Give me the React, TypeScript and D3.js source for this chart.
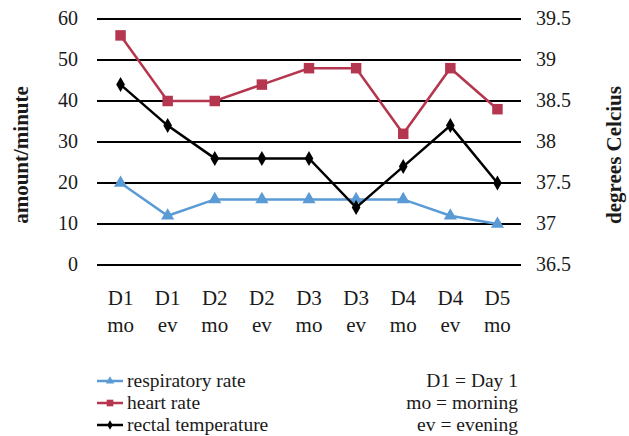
import { useEffect, useRef } from "react";
import * as d3 from "d3";

const categories = ["D1 mo", "D1 ev", "D2 mo", "D2 ev", "D3 mo", "D3 ev", "D4 mo", "D4 ev", "D5 mo"];
const respiratory = [20, 12, 16, 16, 16, 16, 16, 12, 10];
const heartRate = [56, 40, 40, 44, 48, 48, 32, 48, 38];
const temperature = [38.7, 38.2, 37.8, 37.8, 37.8, 37.2, 37.7, 38.2, 37.5];
const leftTicks = [0, 10, 20, 30, 40, 50, 60];
const rightTicks = [36.5, 37, 37.5, 38, 38.5, 39, 39.5];
const legendNotes = ["D1 = Day 1", "mo = morning", "ev = evening"];

const FONT = "'Liberation Serif', serif";

export default function App() {
  const svgRef = useRef<SVGSVGElement>(null);

  useEffect(() => {
    if (!svgRef.current) return;
    const svg = d3.select(svgRef.current);
    svg.selectAll("*").remove();

    const left = 97, right = 521, top = 19, bottom = 265;

    const x = d3.scalePoint<string>().domain(categories).range([left, right]).padding(0.5);
    const yL = d3.scaleLinear().domain([0, 60]).range([bottom, top]);
    const yR = d3.scaleLinear().domain([36.5, 39.5]).range([bottom, top]);

    const g = svg.append("g").style("font-family", FONT).attr("fill", "#1a1a1a");

    // grid
    g.append("g")
      .selectAll("line")
      .data(leftTicks)
      .join("line")
      .attr("x1", left)
      .attr("x2", right)
      .attr("y1", d => yL(d))
      .attr("y2", d => yL(d))
      .attr("stroke", "#000")
      .attr("stroke-width", 2);

    // left ticks
    g.append("g")
      .selectAll("text")
      .data(leftTicks)
      .join("text")
      .attr("x", 78)
      .attr("y", d => yL(d))
      .attr("dy", "0.32em")
      .attr("text-anchor", "end")
      .attr("font-size", 20)
      .text(d => d);

    // right ticks
    g.append("g")
      .selectAll("text")
      .data(rightTicks)
      .join("text")
      .attr("x", 536)
      .attr("y", d => yR(d))
      .attr("dy", "0.32em")
      .attr("font-size", 20)
      .text(d => d);

    // axis titles
    g.append("text")
      .attr("transform", "translate(28,155) rotate(-90)")
      .attr("text-anchor", "middle")
      .attr("font-size", 21)
      .attr("font-weight", "bold")
      .text("amount/minute");
    g.append("text")
      .attr("transform", "translate(621,155) rotate(-90)")
      .attr("text-anchor", "middle")
      .attr("font-size", 21)
      .attr("font-weight", "bold")
      .text("degrees Celcius");

    // x labels
    const xl = g.append("g")
      .selectAll("text")
      .data(categories)
      .join("text")
      .attr("text-anchor", "middle")
      .attr("font-size", 21);
    xl.append("tspan").attr("x", d => x(d)!).attr("y", 305).text(d => d.split(" ")[0]);
    xl.append("tspan").attr("x", d => x(d)!).attr("y", 332).text(d => d.split(" ")[1]);

    const series = [
      { name: "respiratory rate", values: respiratory, scale: yL, color: "#5B9BD5", marker: d3.symbolTriangle, size: 75 },
      { name: "heart rate", values: heartRate, scale: yL, color: "#B5364F", marker: d3.symbolSquare, size: 110 },
      { name: "rectal temperature", values: temperature, scale: yR, color: "#000", marker: d3.symbolDiamond, size: 65 },
    ];

    series.forEach(s => {
      const line = d3.line<number>()
        .x((_, i) => x(categories[i])!)
        .y(d => s.scale(d));
      g.append("path")
        .attr("d", line(s.values))
        .attr("fill", "none")
        .attr("stroke", s.color)
        .attr("stroke-width", 2.5);
      g.append("g")
        .selectAll("path")
        .data(s.values)
        .join("path")
        .attr("transform", (d, i) => `translate(${x(categories[i])},${s.scale(d)})`)
        .attr("d", d3.symbol().type(s.marker).size(s.size)())
        .attr("fill", s.color);
    });

    // legend
    const legendY = [381, 403, 425];
    series.forEach((s, i) => {
      const lg = g.append("g").attr("transform", `translate(97,${legendY[i]})`);
      lg.append("line").attr("x1", 0).attr("x2", 26).attr("stroke", s.color).attr("stroke-width", 2.5);
      lg.append("path")
        .attr("transform", "translate(13,0)")
        .attr("d", d3.symbol().type(s.marker).size(s.size * 0.4)())
        .attr("fill", s.color);
      lg.append("text")
        .attr("x", 30)
        .attr("y", 6)
        .attr("font-size", 19.5)
        .text(s.name);
    });
    g.append("g")
      .selectAll("text")
      .data(legendNotes)
      .join("text")
      .attr("x", 518)
      .attr("y", (_, i) => legendY[i] + 6)
      .attr("text-anchor", "end")
      .attr("font-size", 19.5)
      .text(d => d);
  }, []);

  return (
    <svg
      ref={svgRef}
      width={629}
      height={436}
      style={{ position: "absolute", left: 0, top: 0, background: "#fff" }}
    />
  );
}
